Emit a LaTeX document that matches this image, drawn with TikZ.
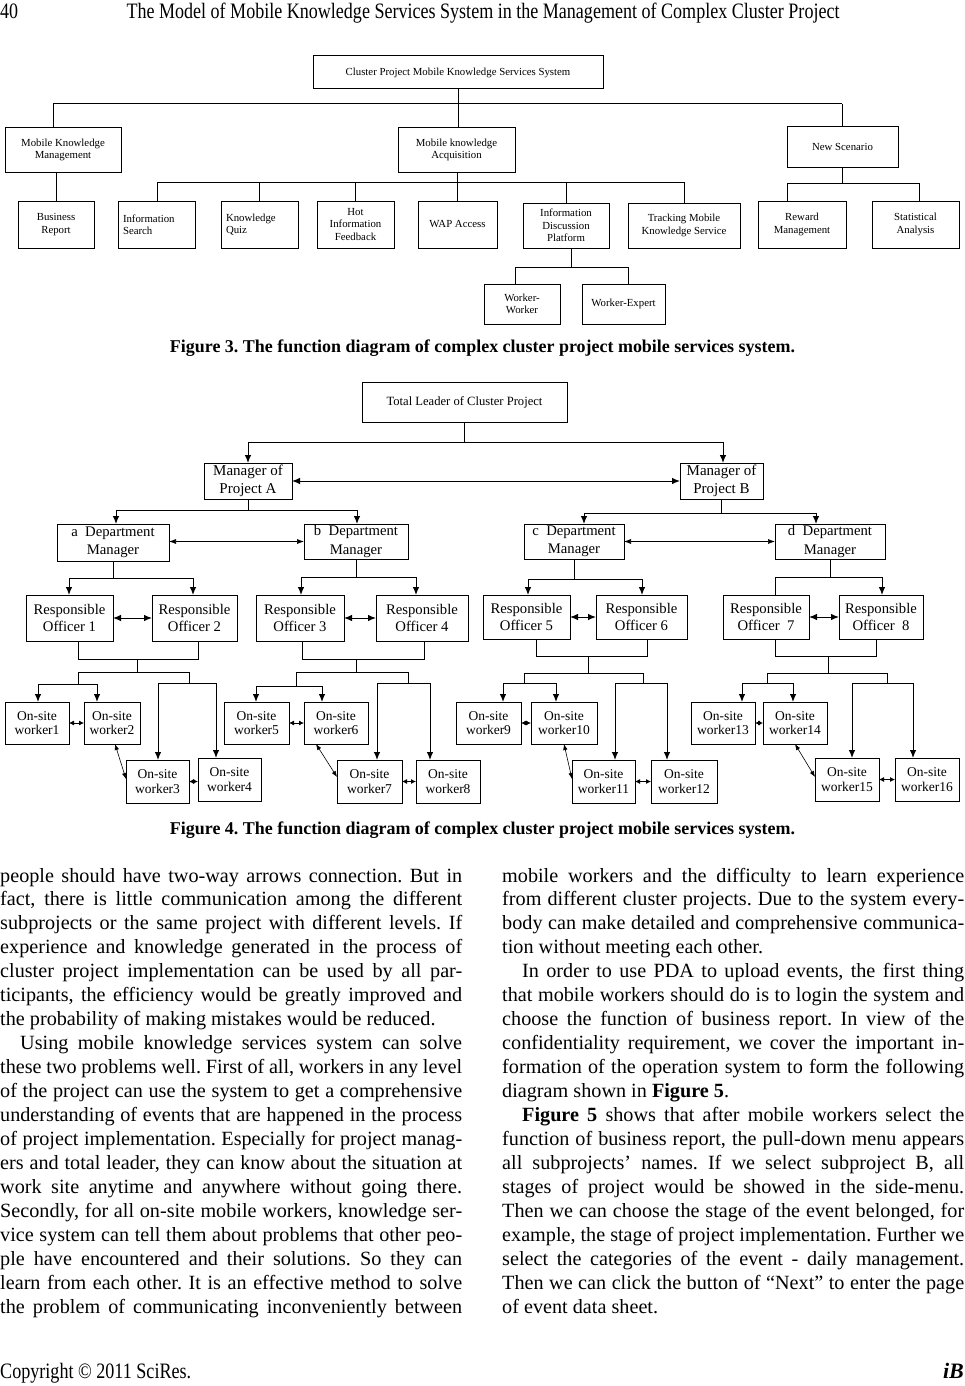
\documentclass[tikz,border=0pt]{standalone}
\usepackage{fontspec}
\setmainfont{Liberation Serif}
\usepackage{graphicx}
\usetikzlibrary{arrows.meta}
\frenchspacing
\newcommand\bx[7][]{\node[box,#1,minimum width={(#5-#3)*1pt},minimum height={(#6-#4)*1pt}] (#2) at ({(#3+#5)/2},{(#4+#6)/2}) {#7};}
\newcommand\jl[5][462]{\node[anchor=base west,inner sep=0pt,body] (#2) at (#3,#4) {\makebox[#1pt][s]{#5}};}
\newcommand\pl[4]{\node[anchor=base west,inner sep=0pt,body] (#1) at (#2,#3) {#4};}
\begin{document}
\begin{tikzpicture}[x=1pt,y=-1pt,
  box/.style={draw,line width=1pt,inner sep=0pt,outer sep=0pt,align=center},
  f3/.style={font=\fontsize{10.8}{12.5}\selectfont},
  tlf/.style={font=\fontsize{12.6}{15}\selectfont},
  mg/.style={font=\fontsize{15}{18}\selectfont},
  dp/.style={font=\fontsize{14.7}{18.3}\selectfont},
  ro/.style={font=\fontsize{14.7}{17.7}\selectfont},
  ws/.style={font=\fontsize{13.5}{14.5}\selectfont},
  body/.style={font=\fontsize{20.2}{24}\selectfont},
  ln/.style={line width=1pt},
  arr/.style={line width=1pt,-{Latex[length=8pt,width=6.5pt]}},
  darr/.style={line width=1pt,{Latex[length=8pt,width=6.5pt]}-{Latex[length=8pt,width=6.5pt]}},
  tdarr/.style={line width=0.6pt,{Latex[length=7pt,width=5pt]}-{Latex[length=7pt,width=5pt]}},
  sdarr/.style={line width=0.8pt,{Latex[length=5pt,width=5pt]}-{Latex[length=5pt,width=5pt]}},
  ddarr/.style={line width=0.6pt,{Latex[length=6pt,width=4.5pt]}-{Latex[length=6pt,width=4.5pt]}},
]
\fill[white] (0,0) rectangle (965,1386);
\useasboundingbox (0,0) rectangle (965,1386);

% ---------- header ----------
\node[anchor=base west,inner sep=0pt,font=\fontsize{22}{24}\selectfont] (pgno) at (0,19) {\resizebox{18pt}{\height}{40}};
\node[anchor=base,inner sep=0pt,font=\fontsize{22}{24}\selectfont] (hdr) at (483,19) {\resizebox{713pt}{\height}{The Model of Mobile Knowledge Services System in the Management of Complex Cluster Project}};

% ---------- Figure 3 ----------
\bx[f3]{top}{313}{56}{603}{89}{Cluster Project Mobile Knowledge Services System}
\bx[f3]{mkm}{5}{128}{121}{172}{Mobile Knowledge\\Management}
\bx[f3]{mka}{398}{128}{515}{172}{Mobile knowledge\\Acquisition}
\bx[f3]{ns}{787}{127}{898}{167}{New Scenario}
\bx[f3]{br}{18}{201}{94}{248}{Business\\Report}
\bx[f3,text width=67pt,align=left]{is}{118}{201}{195}{248}{Information\\Search}
\bx[f3,text width=67pt,align=left]{kq}{221}{201}{298}{248}{Knowledge\\Quiz}
\bx[f3]{hot}{317}{201}{394}{248}{Hot\\Information\\Feedback}
\bx[f3]{wap}{418}{201}{497}{248}{WAP Access}
\bx[f3]{idp}{523}{203}{609}{248}{Information\\Discussion\\Platform}
\bx[f3]{tms}{628}{203}{740}{248}{Tracking Mobile\\Knowledge Service}
\bx[f3]{rm}{758}{201}{846}{248}{Reward\\Management}
\bx[f3]{sa}{872}{201}{959}{248}{Statistical\\Analysis}
\bx[f3]{ww}{484}{284}{560}{324}{Worker-\\Worker}
\bx[f3]{we}{582}{284}{665}{324}{Worker-Expert}

\coordinate (t1) at (53,104);
\coordinate (t2) at (842,104);
\draw[ln] (top.south) -- (top.south |- mka.north);
\draw[ln] (t1) -- (t2);
\draw[ln] (t1) -- (t1 |- mkm.north);
\draw[ln] (t2) -- (t2 |- ns.north);
\draw[ln] (br.north |- mkm.south) -- (br.north);

\coordinate (a1) at (157,182);
\coordinate (a2) at (684,182);
\draw[ln] (wap.north |- mka.south) -- (wap.north);
\draw[ln] (a1) -- (a2);
\draw[ln] (a1) -- (a1 |- is.north);
\draw[ln] (kq.north |- a1) -- (kq.north);
\draw[ln] (hot.north |- a1) -- (hot.north);
\draw[ln] (idp.north |- a1) -- (idp.north);
\draw[ln] (a2) -- (a2 |- tms.north);

\coordinate (n1) at (787,183);
\coordinate (n2) at (919,183);
\draw[ln] (ns.south) -- (ns.south |- n1);
\draw[ln] (n1) -- (n2);
\draw[ln] (n1) -- (n1 |- rm.north);
\draw[ln] (n2) -- (n2 |- sa.north);

\coordinate (d1) at (515,267);
\coordinate (d2) at (628,267);
\draw[ln] ([xshift=5pt]idp.south) -- ([xshift=5pt]idp.south |- d1);
\draw[ln] (d1) -- (d2);
\draw[ln] (d1) -- (d1 |- ww.north);
\draw[ln] (d2) -- (d2 |- we.north);

\node[anchor=base,inner sep=0pt,font=\fontsize{18}{20}\selectfont\bfseries] (cap3) at (482.5,352) {\resizebox{625pt}{\height}{Figure 3. The function diagram of complex cluster project mobile services system.}};

% ---------- Figure 4 ----------
\bx[tlf]{tl}{362}{382}{567}{422}{Total Leader of Cluster Project}
\bx[mg]{ma}{204}{463}{292}{499}{Manager of\\Project A}
\bx[mg]{mb}{680}{463}{763}{499}{Manager of\\Project B}
\bx[dp]{da}{57}{524}{169}{561}{a\ \ Department\\Manager}
\bx[dp]{db}{304}{524}{408}{559}{b\ \ Department\\Manager}
\bx[dp]{dc}{524}{524}{624}{559}{c\ \ Department\\Manager}
\bx[dp]{dd}{775}{524}{885}{559}{d\ \ Department\\Manager}
\bx[ro]{r1}{26}{595}{113}{641}{Responsible\\Officer 1}
\bx[ro]{r2}{152}{595}{237}{641}{Responsible\\Officer 2}
\bx[ro]{r3}{256}{595}{344}{641}{Responsible\\Officer 3}
\bx[ro]{r4}{376}{595}{468}{641}{Responsible\\Officer 4}
\bx[ro]{r5}{483}{595}{570}{639}{Responsible\\Officer 5}
\bx[ro]{r6}{596}{595}{687}{639}{Responsible\\Officer 6}
\bx[ro]{r7}{723}{595}{809}{639}{Responsible\\Officer\ \ 7}
\bx[ro]{r8}{839}{595}{923}{639}{Responsible\\Officer\ \ 8}
\bx[ws]{w1}{5}{702}{69}{744}{On-site\\worker1}
\bx[ws]{w2}{84}{702}{140}{744}{On-site\\worker2}
\bx[ws]{w3}{126}{760}{189}{803}{On-site\\worker3}
\bx[ws]{w4}{198}{758}{261}{801}{On-site\\worker4}
\bx[ws]{w5}{224}{702}{289}{744}{On-site\\worker5}
\bx[ws]{w6}{304}{702}{368}{744}{On-site\\worker6}
\bx[ws]{w7}{337}{760}{402}{803}{On-site\\worker7}
\bx[ws]{w8}{416}{760}{480}{803}{On-site\\worker8}
\bx[ws]{w9}{456}{702}{521}{744}{On-site\\worker9}
\bx[ws]{w10}{531}{702}{597}{744}{On-site\\worker10}
\bx[ws]{w11}{572}{760}{635}{803}{On-site\\worker11}
\bx[ws]{w12}{651}{760}{717}{803}{On-site\\worker12}
\bx[ws]{w13}{691}{702}{755}{744}{On-site\\worker13}
\bx[ws]{w14}{763}{702}{827}{744}{On-site\\worker14}
\bx[ws]{w15}{815}{758}{879}{801}{On-site\\worker15}
\bx[ws]{w16}{895}{758}{959}{801}{On-site\\worker16}

% leader to managers
\coordinate (lb1) at (248,442);
\coordinate (lb2) at (723,442);
\draw[ln] (tl.south) -- (tl.south |- lb1);
\draw[ln] (lb1) -- (lb2);
\draw[arr] (lb1) -- (lb1 |- ma.north);
\draw[arr] (lb2) -- (lb2 |- mb.north);
\draw[darr] (ma.east) -- (mb.west);

% managers to departments
\coordinate (ma1) at (116,510);
\coordinate (ma2) at (357,510);
\draw[ln] (ma.south) -- (ma.south |- ma1);
\draw[ln] (ma1) -- (ma2);
\draw[arr] (ma1) -- (ma1 |- da.north);
\draw[arr] (ma2) -- (ma2 |- db.north);
\draw[tdarr] (da.east |- db.west) -- (db.west);
\coordinate (mb1) at (584,513);
\coordinate (mb2) at (816,513);
\draw[ln] (mb.south) -- (mb.south |- mb1);
\draw[ln] (mb1) -- (mb2);
\draw[arr] (mb1) -- (mb1 |- dc.north);
\draw[arr] (mb2) -- (mb2 |- dd.north);
\draw[tdarr] (dc.east) -- (dc.east -| dd.west);

% departments to officers
\coordinate (e1) at (69,578);
\coordinate (e2) at (193,578);
\draw[ln] (da.south) -- (da.south |- e1);
\draw[ln] (e1) -- (e2);
\draw[arr] (e1) -- (e1 |- r1.north);
\draw[arr] (e2) -- (e2 |- r2.north);
\draw[darr] (r1.east) -- (r2.west);
\coordinate (e3) at (301,577);
\coordinate (e4) at (416,577);
\draw[ln] (db.south) -- (db.south |- e3);
\draw[ln] (e3) -- (e4);
\draw[arr] (e3) -- (e3 |- r3.north);
\draw[arr] (e4) -- (e4 |- r4.north);
\draw[darr] (r3.east) -- (r4.west);
\coordinate (e5) at (528,579);
\coordinate (e6) at (642,579);
\draw[ln] (dc.south) -- (dc.south |- e5);
\draw[ln] (e5) -- (e6);
\draw[arr] (e5) -- (e5 |- r5.north);
\draw[arr] (e6) -- (e6 |- r6.north);
\draw[darr] (r5.east) -- (r6.west);
\coordinate (e7) at (775,577);
\coordinate (e8) at (882,577);
\draw[ln] (dd.south) -- (dd.south |- e7);
\draw[ln] (e7) -- (e8);
\draw[ln] (e7) -- (e7 |- r7.north);
\draw[arr] (e8) -- (e8 |- r8.north);
\draw[darr] (r7.east) -- (r8.west);

% officers 1,2 to workers 1-4
\coordinate (h1) at (78,659);
\coordinate (h2) at (198,659);
\coordinate (hm) at (137,659);
\coordinate (k1) at (78,672);
\coordinate (k2) at (189,672);
\coordinate (u1) at (38,684);
\coordinate (u2) at (97,684);
\coordinate (v1) at (158,683);
\coordinate (v2) at (216,683);
\draw[ln] (h1 |- r1.south) -- (h1) -- (h2) -- (h2 |- r2.south);
\draw[ln] (hm) -- (hm |- k1);
\draw[ln] (k1) -- (k2);
\draw[ln] (k1) -- (k1 |- u1);
\draw[ln] (u1) -- (u2);
\draw[arr] (u1) -- (u1 |- w1.north);
\draw[arr] (u2) -- (u2 |- w2.north);
\draw[ln] (k2) -- (k2 |- v1);
\draw[ln] (v1) -- (v2);
\draw[arr] (v1) -- (v1 |- w3.north);
\draw[arr] (v2) -- (v2 |- w4.north);

% officers 3,4 to workers 5-8
\coordinate (h3) at (302,659);
\coordinate (h4) at (424,659);
\coordinate (hn) at (356,659);
\coordinate (k3) at (296,672);
\coordinate (k4) at (408,672);
\coordinate (u3) at (256,686);
\coordinate (u4) at (322,686);
\coordinate (v3) at (377,683);
\coordinate (v4) at (430,683);
\draw[ln] (h3 |- r3.south) -- (h3) -- (h4) -- (h4 |- r4.south);
\draw[ln] (hn) -- (hn |- k3);
\draw[ln] (k3) -- (k4);
\draw[ln] (k3) -- (k3 |- u3);
\draw[ln] (u3) -- (u4);
\draw[arr] (u3) -- (u3 |- w5.north);
\draw[arr] (u4) -- (u4 |- w6.north);
\draw[ln] (k4) -- (k4 |- v3);
\draw[ln] (v3) -- (v4);
\draw[arr] (v3) -- (v3 |- w7.north);
\draw[arr] (v4) -- (v4 |- w8.north);

% officers 5,6 to workers 9-12
\coordinate (h5) at (536,656);
\coordinate (h6) at (647,656);
\coordinate (ho) at (588,656);
\coordinate (k5) at (524,673);
\coordinate (k6) at (643,673);
\coordinate (u5) at (503,683);
\coordinate (u6) at (556,683);
\coordinate (v5) at (615,683);
\coordinate (v6) at (667,683);
\draw[ln] (h5 |- r5.south) -- (h5) -- (h6) -- (h6 |- r6.south);
\draw[ln] (ho) -- (ho |- k5);
\draw[ln] (k5) -- (k6);
\draw[ln] (k5) -- (k5 |- u5);
\draw[ln] (u5) -- (u6);
\draw[arr] (u5) -- (u5 |- w9.north);
\draw[arr] (u6) -- (u6 |- w10.north);
\draw[ln] (k6) -- (k6 |- v5);
\draw[ln] (v5) -- (v6);
\draw[arr] (v5) -- (v5 |- w11.north);
\draw[arr] (v6) -- (v6 |- w12.north);

% officers 7,8 to workers 13-16
\coordinate (h7) at (775,656);
\coordinate (h8) at (876,656);
\coordinate (hp) at (828,656);
\coordinate (k7) at (767,673);
\coordinate (k8) at (887,673);
\coordinate (u7) at (742,683);
\coordinate (u8) at (793,683);
\coordinate (v7) at (852,683);
\coordinate (v8) at (913,683);
\draw[ln] (h7 |- r7.south) -- (h7) -- (h8) -- (h8 |- r8.south);
\draw[ln] (hp) -- (hp |- k7);
\draw[ln] (k7) -- (k8);
\draw[ln] (k7) -- (k7 |- u7);
\draw[ln] (u7) -- (u8);
\draw[arr] (u7) -- (u7 |- w13.north);
\draw[arr] (u8) -- (u8 |- w14.north);
\draw[ln] (k8) -- (k8 |- v7);
\draw[ln] (v7) -- (v8);
\draw[arr] (v7) -- (v7 |- w15.north);
\draw[arr] (v8) -- (v8 |- w16.north);

% worker peer arrows
\draw[sdarr] (w1.east) -- (w2.west);
\draw[ddarr] ([xshift=3pt]w2.south) -- ([yshift=2.5pt]w3.west);
\draw[sdarr] (w3.east) -- (w3.east -| w4.west);
\draw[sdarr] (w5.east) -- (w6.west);
\draw[ddarr] ([xshift=-20pt]w6.south) -- ([yshift=4.5pt]w7.west);
\draw[sdarr] (w7.east) -- (w8.west);
\draw[sdarr] (w9.east) -- (w10.west);
\draw[ddarr] (w10.south) -- ([yshift=2.5pt]w11.west);
\draw[sdarr] (w11.east) -- (w12.west);
\draw[sdarr] (w13.east) -- (w14.west);
\draw[ddarr] (w14.south) -- ([yshift=2.5pt]w15.west);
\draw[sdarr] (w15.east) -- (w16.west);

\node[anchor=base,inner sep=0pt,font=\fontsize{18}{20}\selectfont\bfseries] (cap4) at (482.5,834) {\resizebox{625pt}{\height}{Figure 4. The function diagram of complex cluster project mobile services system.}};

% ---------- body text, left column ----------
\jl{L1}{0}{882}{people should have two-way arrows connection. But in}
\jl{L2}{0}{905.95}{fact, there is little communication among the different}
\jl{L3}{0}{929.9}{subprojects or the same project with different levels. If}
\jl{L4}{0}{953.85}{experience and knowledge generated in the process of}
\jl{L5}{0}{977.8}{cluster project implementation can be used by all par-}
\jl{L6}{0}{1001.75}{ticipants, the efficiency would be greatly improved and}
\pl{L7}{0}{1025.7}{the probability of making mistakes would be reduced.}
\jl[442]{L8}{20}{1049.65}{Using mobile knowledge services system can solve}
\jl{L9}{0}{1073.6}{these two problems well. First of all, workers in any level}
\jl{L10}{0}{1097.55}{of the project can use the system to get a comprehensive}
\jl{L11}{0}{1121.5}{understanding of events that are happened in the process}
\jl{L12}{0}{1145.45}{of project implementation. Especially for project manag-}
\jl{L13}{0}{1169.4}{ers and total leader, they can know about the situation at}
\jl{L14}{0}{1193.35}{work site anytime and anywhere without going there.}
\jl{L15}{0}{1217.3}{Secondly, for all on-site mobile workers, knowledge ser-}
\jl{L16}{0}{1241.25}{vice system can tell them about problems that other peo-}
\jl{L17}{0}{1265.2}{ple have encountered and their solutions. So they can}
\jl{L18}{0}{1289.15}{learn from each other. It is an effective method to solve}
\jl{L19}{0}{1313.1}{the problem of communicating inconveniently between}

% ---------- body text, right column ----------
\jl{R1}{502}{882}{mobile workers and the difficulty to learn experience}
\jl{R2}{502}{905.95}{from different cluster projects. Due to the system every-}
\jl{R3}{502}{929.9}{body can make detailed and comprehensive communica-}
\pl{R4}{502}{953.85}{tion without meeting each other.}
\jl[442]{R5}{522}{977.8}{In order to use PDA to upload events, the first thing}
\jl{R6}{502}{1001.75}{that mobile workers should do is to login the system and}
\jl{R7}{502}{1025.7}{choose the function of business report. In view of the}
\jl{R8}{502}{1049.65}{confidentiality requirement, we cover the important in-}
\jl{R9}{502}{1073.6}{formation of the operation system to form the following}
\pl{R10}{502}{1097.55}{diagram shown in \textbf{Figure 5}.}
\jl[442]{R11}{522}{1121.5}{\textbf{Figure 5} shows that after mobile workers select the}
\jl{R12}{502}{1145.45}{function of business report, the pull-down menu appears}
\jl{R13}{502}{1169.4}{all subprojects’ names. If we select subproject B, all}
\jl{R14}{502}{1193.35}{stages of project would be showed in the side-menu.}
\jl{R15}{502}{1217.3}{Then we can choose the stage of the event belonged, for}
\jl{R16}{502}{1241.25}{example, the stage of project implementation. Further we}
\jl{R17}{502}{1265.2}{select the categories of the event - daily management.}
\jl{R18}{502}{1289.15}{Then we can click the button of “Next” to enter the page}
\pl{R19}{502}{1313.1}{of event data sheet.}

% ---------- footer ----------
\node[anchor=base west,inner sep=0pt,font=\fontsize{22}{24}\selectfont] (copy) at (0,1378) {\resizebox{191pt}{\height}{Copyright © 2011 SciRes.}};
\node[anchor=base east,inner sep=0pt,font=\fontsize{22}{24}\selectfont\bfseries\itshape] (ib) at (964,1378) {iB};
\end{tikzpicture}
\end{document}
